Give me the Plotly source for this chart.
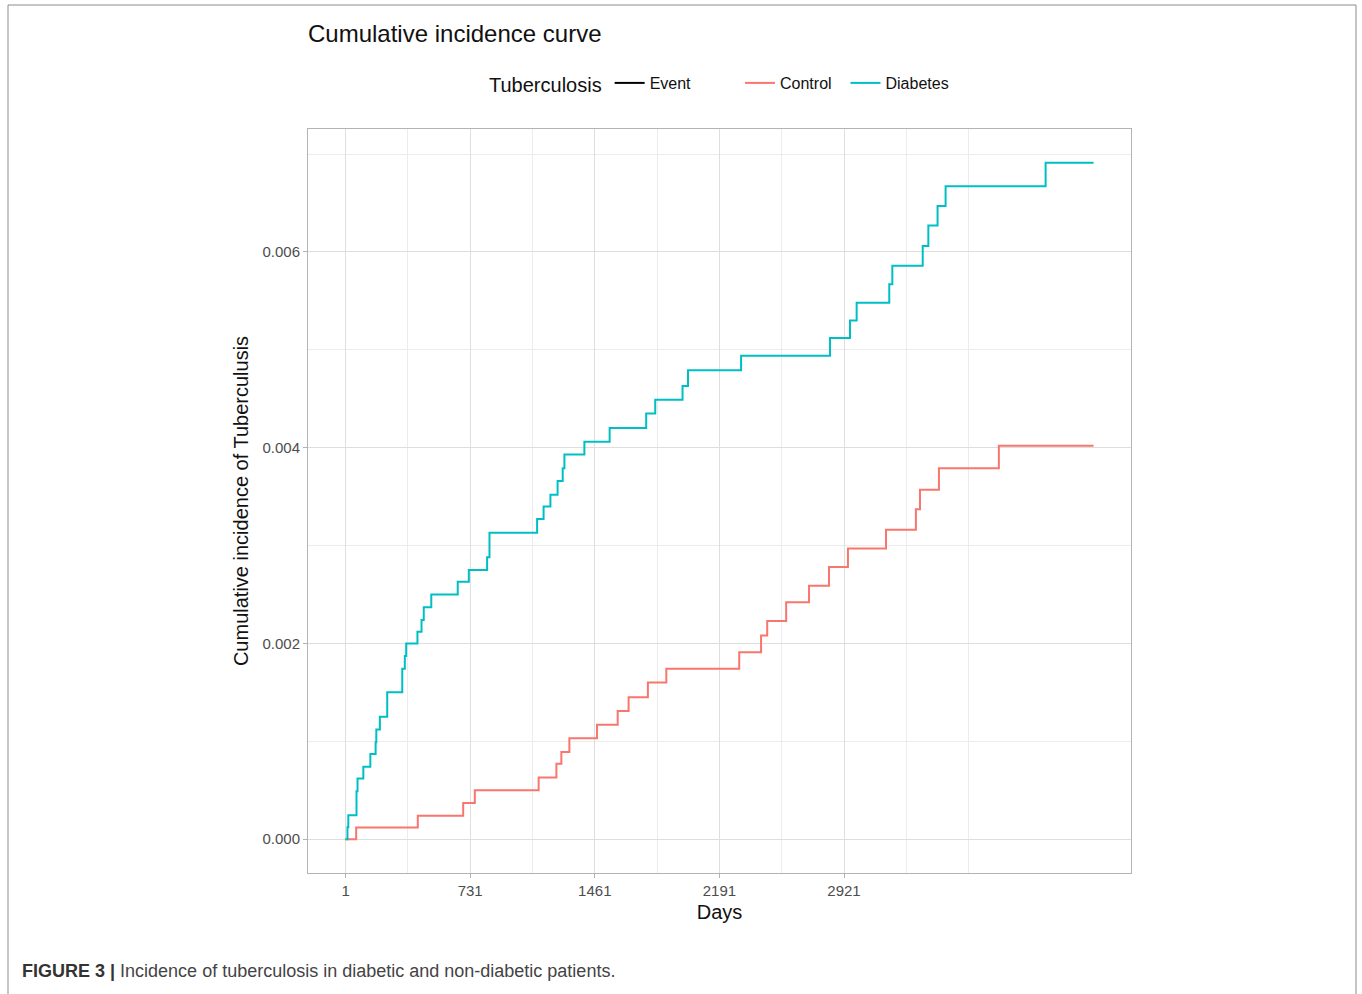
import plotly.graph_objects as go

# ---- data ----
diabetes_days = [0, 12, 17, 65, 71, 105, 146, 177, 181, 202, 245, 333, 348, 356, 422, 446, 459, 503,
                 658, 723, 830, 844, 1123, 1161, 1201, 1243, 1273, 1283, 1400, 1548, 1762, 1815,
                 1975, 2007, 2318, 2839, 2956, 2995, 3186, 3204, 3382, 3415, 3469, 3516, 4102, 4383]
diabetes_cif = [0.0, 0.000122, 0.000245, 0.00049, 0.00062, 0.00074, 0.00087, 0.00099, 0.00112, 0.00125,
                0.0015, 0.00174, 0.00187, 0.0020, 0.00212, 0.00224, 0.00237, 0.0025,
                0.00263, 0.00275, 0.00288, 0.00313, 0.00327, 0.0034, 0.00352, 0.00366, 0.00379, 0.00393,
                0.00406, 0.0042, 0.00435, 0.00449, 0.00463, 0.00479, 0.00494, 0.00512, 0.0053, 0.00548,
                0.00567, 0.00586, 0.00606, 0.00627, 0.00647, 0.00667, 0.00691, 0.00691]

control_days = [0, 63, 424, 690, 758, 1132, 1236, 1265, 1312, 1474, 1595, 1659, 1772, 1880,
                2307, 2435, 2471, 2582, 2716, 2833, 2944, 3167, 3342, 3366, 3477, 3828, 4383]
control_cif = [0.0, 0.00012, 0.00024, 0.00037, 0.0005, 0.00063, 0.00077, 0.00089, 0.00103, 0.00117,
               0.00131, 0.00145, 0.0016, 0.00174, 0.00191, 0.00208, 0.00223, 0.00242, 0.00259,
               0.00278, 0.00297, 0.00316, 0.00337, 0.00357, 0.00379, 0.00402, 0.00402]

x_tick_vals = [1, 731, 1461, 2191, 2921]
x_tick_text = ["1", "731", "1461", "2191", "2921"]
x_minor_vals = [366, 1096, 1826, 2556, 3286, 3651]
y_tick_vals = [0.0, 0.002, 0.004, 0.006]
y_minor_vals = [0.001, 0.003, 0.005, 0.007]

# ---- styling ----
FONT = "Liberation Sans, Arial, sans-serif"
RED = "#F8766D"
TEAL = "#00BFC4"
GRID = "#dedede"
GRID_MINOR = "#ececec"
NB = "\u00a0"

fig = go.Figure()
fig.add_trace(go.Scatter(x=[None], y=[None], mode="lines", name="Event" + NB * 10,
                         line=dict(color="black", width=2)))
fig.add_trace(go.Scatter(x=control_days, y=control_cif, mode="lines", name="Control" + NB * 2,
                         line=dict(color=RED, width=2, shape="hv")))
fig.add_trace(go.Scatter(x=diabetes_days, y=diabetes_cif, mode="lines", name="Diabetes",
                         line=dict(color=TEAL, width=2, shape="hv")))

W, H = 1362, 994
L, R, T, B = 308, 231, 129, 121
pw, ph = W - L - R, H - T - B

def px_x(p):
    return (p - L) / pw

def px_y(p):
    return (H - B - p) / ph

fig.update_layout(
    width=W, height=H,
    margin=dict(l=L, r=R, t=T, b=B, autoexpand=False),
    paper_bgcolor="white", plot_bgcolor="white",
    font=dict(family=FONT, color="#1a1a1a"),
    title=dict(text="Cumulative incidence curve", font=dict(size=24, color="#111111"),
               x=px_x(308), xref="paper", xanchor="left",
               y=1 - 34 / H, yref="container", yanchor="middle"),
    showlegend=True,
    legend=dict(orientation="h", x=px_x(487), xanchor="left", y=px_y(84), yanchor="middle",
                title=dict(text="Tuberculosis", font=dict(size=20, color="#111111"), side="left"),
                font=dict(size=16, color="#111111"), bgcolor="rgba(0,0,0,0)"),
    xaxis=dict(range=[-219.15, 4602.15], tickmode="array", tickvals=x_tick_vals, ticktext=x_tick_text,
               showgrid=True, gridcolor=GRID, gridwidth=1, zeroline=False,
               showline=True, linecolor="#b3b3b3", linewidth=1, mirror=True,
               ticks="outside", ticklen=4, tickcolor="#b3b3b3",
               tickfont=dict(size=15, color="#4d4d4d"),
               minor=dict(tickmode="array", tickvals=x_minor_vals, showgrid=True,
                          gridcolor=GRID_MINOR, gridwidth=1, ticks=""),
               title=dict(text="Days", font=dict(size=20, color="#111111"), standoff=6)),
    yaxis=dict(range=[-0.000346, 0.007256], tickmode="array", tickvals=y_tick_vals, tickformat=".3f",
               showgrid=True, gridcolor=GRID, gridwidth=1, zeroline=False,
               showline=True, linecolor="#b3b3b3", linewidth=1, mirror=True,
               ticks="outside", ticklen=4, tickcolor="#b3b3b3",
               tickfont=dict(size=15, color="#4d4d4d"),
               minor=dict(tickmode="array", tickvals=y_minor_vals, showgrid=True,
                          gridcolor=GRID_MINOR, gridwidth=1, ticks=""),
               title=dict(text="Cumulative incidence of Tuberculusis", font=dict(size=20, color="#111111"),
                          standoff=8)),
)

# outer frame of the figure panel
fig.add_shape(type="rect", xref="paper", yref="paper",
              x0=px_x(8), x1=px_x(1356), y0=px_y(1010), y1=px_y(5),
              line=dict(color="#8c8c8c", width=1), layer="below")

# caption
fig.add_annotation(xref="paper", yref="paper", x=px_x(20), y=px_y(971), xanchor="left", yanchor="middle",
                   showarrow=False, align="left",
                   text="<b>FIGURE 3 |</b> <span style='color:#444444'>Incidence of tuberculosis in diabetic and non-diabetic patients.</span>",
                   font=dict(size=18, color="#333333", family=FONT))

fig.write_html("out.html", config={"displayModeBar": False},
               post_script="document.body.style.margin='0';")
